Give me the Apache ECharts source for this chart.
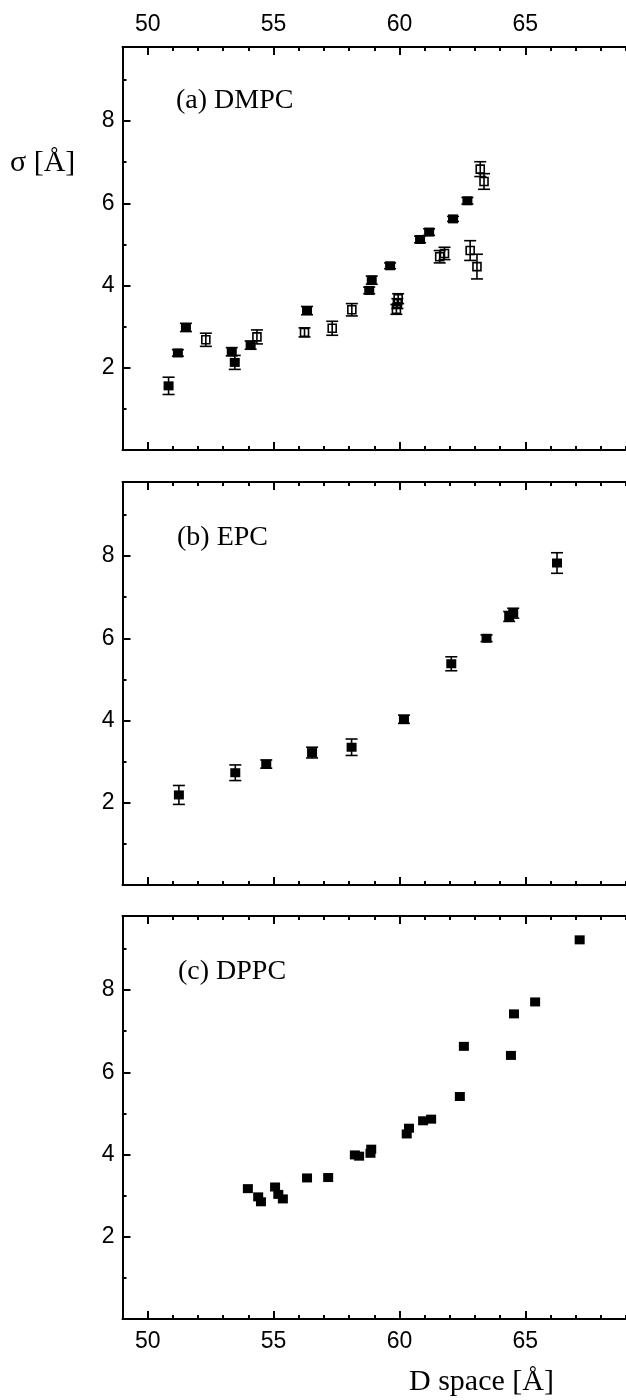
<!DOCTYPE html>
<html>
<head>
<meta charset="utf-8">
<script src="https://cdn.jsdelivr.net/npm/echarts@6/dist/echarts.min.js"></script>
<style>
  html, body { margin: 0; padding: 0; background: #fff; }
  #chart { width: 626px; height: 1400px; }
</style>
</head>
<body>
<div id="chart"></div>
<script>
// axis ranges and tick labels
var xMin = 49, xMax = 69;
var yMin = 0, yMax = 9.8;
var xMajor = [50, 55, 60, 65];
var yMajor = [2, 4, 6, 8];
var panelLabels = ['(a) DMPC', '(b) EPC', '(c) DPPC'];

// (a) DMPC, filled squares
var aFilledX   = [50.83, 51.20, 51.52, 53.34, 53.46, 54.09, 56.33, 58.80, 58.90, 59.63, 60.82, 61.18, 62.13, 62.70];
var aFilledY   = [1.56, 2.36, 2.98, 2.39, 2.13, 2.55, 3.39, 3.88, 4.13, 4.48, 5.12, 5.30, 5.62, 6.06];
var aFilledErr = [0.21, 0.08, 0.10, 0.10, 0.17, 0.10, 0.10, 0.08, 0.10, 0.07, 0.08, 0.08, 0.06, 0.08];
// (a) DMPC, open squares
var aOpenX   = [52.31, 54.34, 56.23, 57.33, 58.11, 59.88, 59.92, 59.95, 61.60, 61.79, 62.81, 63.08, 63.21, 63.36];
var aOpenY   = [2.68, 2.75, 2.86, 2.96, 3.41, 3.42, 3.56, 3.68, 4.70, 4.78, 4.85, 4.46, 6.83, 6.53];
var aOpenErr = [0.16, 0.17, 0.11, 0.17, 0.15, 0.12, 0.12, 0.12, 0.15, 0.15, 0.24, 0.30, 0.18, 0.19];
// (b) EPC
var bX   = [51.24, 53.48, 54.71, 56.53, 58.10, 60.18, 62.06, 63.46, 64.36, 64.52, 66.26];
var bY   = [2.19, 2.73, 2.94, 3.22, 3.35, 4.03, 5.38, 6.00, 6.53, 6.61, 7.83];
var bErr = [0.23, 0.19, 0.10, 0.13, 0.20, 0.10, 0.17, 0.08, 0.12, 0.12, 0.25];
// (c) DPPC
var cX = [53.98, 54.39, 54.50, 55.06, 55.19, 55.37, 56.33, 57.17, 58.23, 58.40, 58.85, 58.88,
          60.29, 60.38, 60.94, 61.26, 62.40, 62.56, 64.43, 64.55, 65.39, 67.16];
var cY = [3.17, 2.97, 2.85, 3.21, 3.03, 2.92, 3.43, 3.44, 3.99, 3.96, 4.03, 4.13,
          4.50, 4.64, 4.82, 4.86, 5.41, 6.63, 6.41, 7.42, 7.71, 9.22];

var chart = echarts.init(document.getElementById('chart'), null, { renderer: 'canvas' });

var gridTops = [47, 482, 916];
var labelFont = { fontFamily: 'Liberation Sans', fontSize: 23, color: '#000' };

var grids = [], xAxes = [], yAxes = [], series = [];

gridTops.forEach(function (top, g) {
  grids.push({ left: 122.5, top: top, width: 513, height: 403, containLabel: false });

  ['bottom', 'top'].forEach(function (pos) {
    var showLabel = (pos === 'top' && g === 0) || (pos === 'bottom' && g === 2);
    // major ticks + labels
    xAxes.push({
      type: 'value', gridIndex: g, position: pos, min: xMin, max: xMax,
      axisLine: { show: true, onZero: false, lineStyle: { color: '#000', width: 2 } },
      axisTick: { show: true, inside: true, length: 8, customValues: xMajor, lineStyle: { color: '#000', width: 2 } },
      axisLabel: Object.assign({ show: showLabel, margin: 11, customValues: xMajor }, labelFont),
      splitLine: { show: false }
    });
    // minor ticks
    xAxes.push({
      type: 'value', gridIndex: g, position: pos, min: xMin, max: xMax, interval: 1,
      axisLine: { show: false, onZero: false },
      axisTick: { show: true, inside: true, length: 4, lineStyle: { color: '#000', width: 2 } },
      axisLabel: { show: false },
      splitLine: { show: false }
    });
  });

  yAxes.push({
    type: 'value', gridIndex: g, position: 'left', min: yMin, max: yMax,
    axisLine: { show: true, onZero: false, lineStyle: { color: '#000', width: 2 } },
    axisTick: { show: true, inside: true, length: 8, customValues: yMajor, lineStyle: { color: '#000', width: 2 } },
    axisLabel: Object.assign({ show: true, margin: 8, customValues: yMajor }, labelFont),
    splitLine: { show: false }
  });
  yAxes.push({
    type: 'value', gridIndex: g, position: 'left', min: yMin, max: yMax, interval: 1,
    axisLine: { show: false, onZero: false },
    axisTick: { show: true, inside: true, length: 4, lineStyle: { color: '#000', width: 2 } },
    axisLabel: { show: false },
    splitLine: { show: false }
  });
});

function errorBars(g, xs, ys, es) {
  return {
    type: 'custom',
    xAxisIndex: g * 4 + 1, yAxisIndex: g * 2,
    silent: true, z: 2,
    encode: { x: 0, y: [1, 2] },
    data: xs.map(function (x, i) { return [x, ys[i] - es[i], ys[i] + es[i]]; }),
    renderItem: function (params, api) {
      var lo = api.coord([api.value(0), api.value(1)]);
      var hi = api.coord([api.value(0), api.value(2)]);
      var w = 6;
      var st = { stroke: '#000', lineWidth: 1.6 };
      return {
        type: 'group',
        children: [
          { type: 'line', shape: { x1: lo[0], y1: lo[1], x2: hi[0], y2: hi[1] }, style: st },
          { type: 'line', shape: { x1: lo[0] - w, y1: lo[1], x2: lo[0] + w, y2: lo[1] }, style: st },
          { type: 'line', shape: { x1: hi[0] - w, y1: hi[1], x2: hi[0] + w, y2: hi[1] }, style: st }
        ]
      };
    }
  };
}

function squares(g, xs, ys, open) {
  return {
    type: 'scatter',
    xAxisIndex: g * 4 + 1, yAxisIndex: g * 2,
    symbol: 'rect',
    symbolSize: open ? 8 : [10, 9],
    z: 3, silent: true,
    itemStyle: open
      ? { color: 'rgba(0,0,0,0)', borderColor: '#000', borderWidth: 1.6, opacity: 1 }
      : { color: '#000', opacity: 1 },
    data: xs.map(function (x, i) { return [x, ys[i]]; })
  };
}

series.push(errorBars(0, aFilledX, aFilledY, aFilledErr));
series.push(squares(0, aFilledX, aFilledY, false));
series.push(errorBars(0, aOpenX, aOpenY, aOpenErr));
series.push(squares(0, aOpenX, aOpenY, true));
series.push(errorBars(1, bX, bY, bErr));
series.push(squares(1, bX, bY, false));
series.push(squares(2, cX, cY, false));

var serif = '"Liberation Serif", "Times New Roman", serif';
var texts = [
  { type: 'text', x: 176, y: 101, style: { text: panelLabels[0], font: '28px ' + serif, fill: '#000', verticalAlign: 'middle' } },
  { type: 'text', x: 177, y: 538, style: { text: panelLabels[1], font: '28px ' + serif, fill: '#000', verticalAlign: 'middle' } },
  { type: 'text', x: 178, y: 972, style: { text: panelLabels[2], font: '28px ' + serif, fill: '#000', verticalAlign: 'middle' } },
  { type: 'text', x: 10, y: 163, style: { text: 'σ [Å]', font: '30px ' + serif, fill: '#000', verticalAlign: 'middle' } },
  { type: 'text', x: 409, y: 1382, style: { text: 'D space [Å]', font: '30px ' + serif, fill: '#000', verticalAlign: 'middle' } }
];

chart.setOption({
  backgroundColor: '#fff',
  animation: false,
  grid: grids,
  xAxis: xAxes,
  yAxis: yAxes,
  series: series,
  graphic: texts
});
</script>
</body>
</html>
